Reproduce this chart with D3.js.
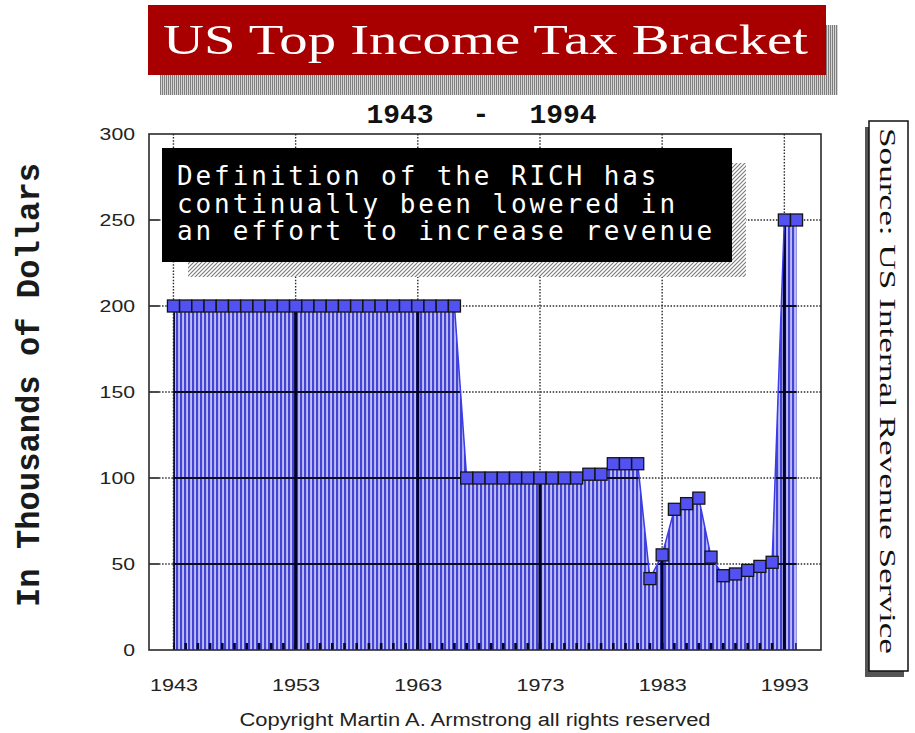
<!DOCTYPE html>
<html>
<head>
<meta charset="utf-8">
<script src="https://cdn.jsdelivr.net/npm/d3@7"></script>
<style>
  html, body { margin: 0; padding: 0; background: #fff; }
  svg { display: block; }
</style>
</head>
<body>
<svg id="chart" width="915" height="733"></svg>
<script>
// Top income tax bracket threshold, thousands of dollars, one value per year
const years = [1943,1944,1945,1946,1947,1948,1949,1950,1951,1952,
               1953,1954,1955,1956,1957,1958,1959,1960,1961,1962,
               1963,1964,1965,1966,1967,1968,1969,1970,1971,1972,
               1973,1974,1975,1976,1977,1978,1979,1980,1981,1982,
               1983,1984,1985,1986,1987,1988,1989,1990,1991,1992,
               1993,1994];
const bracket = [200,200,200,200,200,200,200,200,200,200,
                 200,200,200,200,200,200,200,200,200,200,
                 200,200,200,200,100,100,100,100,100,100,
                 100,100,100,100,102.2,102.2,108.3,108.3,108.3,41.5,
                 55.3,81.8,85.1,88.3,54.0,43.2,44.2,46.3,48.6,51.0,
                 250,250];
const xTickYears = [1943,1953,1963,1973,1983,1993];
const yTickValues = [0,50,100,150,200,250,300];
const gridValues = [50,100,150,200,250];

const titleText = "US Top Income Tax Bracket";
const periodFrom = "1943", periodDash = "-", periodTo = "1994";
const noteLines = ["Definition of the RICH has",
                   "continually been lowered in",
                   "an effort to increase revenue"];
const yAxisTitle = "In Thousands of Dollars";
const sourceText = "Source:  US Internal Revenue Service";
const copyrightText = "Copyright Martin A. Armstrong all rights reserved";

const data = years.map((yr, i) => ({ year: yr, value: bracket[i] }));

const svg = d3.select("#chart");
const P = { left: 149, right: 821, top: 134, bottom: 650 };

const x = d3.scaleLinear().domain([1941, 1996]).range([P.left, P.right]);
const y = d3.scaleLinear().domain([0, 300]).range([P.bottom, P.top]);

// ---------- patterns ----------
const defs = svg.append("defs");

const stripes = defs.append("pattern").attr("id", "barStripes")
  .attr("patternUnits", "userSpaceOnUse").attr("width", 4).attr("height", 8);
stripes.append("rect").attr("width", 4).attr("height", 8).attr("fill", "#bcbcf6");
stripes.append("rect").attr("width", 2.1).attr("height", 8).attr("fill", "#4343d4");

const grayStripes = defs.append("pattern").attr("id", "titleShade")
  .attr("patternUnits", "userSpaceOnUse").attr("width", 2).attr("height", 4);
grayStripes.append("rect").attr("width", 2).attr("height", 4).attr("fill", "#d6d6d6");
grayStripes.append("rect").attr("width", 1).attr("height", 4).attr("fill", "#7e7e7e");

const hatch = defs.append("pattern").attr("id", "noteHatch")
  .attr("patternUnits", "userSpaceOnUse").attr("width", 4).attr("height", 4);
hatch.append("rect").attr("width", 4).attr("height", 4).attr("fill", "#fff");
hatch.append("path").attr("d", "M-1,1 L1,-1 M0,4 L4,0 M3,5 L5,3")
  .attr("stroke", "#7a7a7a").attr("stroke-width", 1.1);

// ---------- title banner ----------
svg.append("rect").attr("x", 160).attr("y", 25).attr("width", 678).attr("height", 70)
  .attr("fill", "url(#titleShade)");
svg.append("rect").attr("x", 148).attr("y", 5).attr("width", 678).attr("height", 70)
  .attr("fill", "#a80000");
svg.append("text").attr("x", 163).attr("y", 54)
  .attr("font-family", "'Liberation Serif', 'DejaVu Serif', serif")
  .attr("font-size", 43).attr("fill", "#fff")
  .attr("textLength", 645).attr("lengthAdjust", "spacingAndGlyphs")
  .text(titleText);

// period subtitle
const periodFont = "'Liberation Mono', 'DejaVu Sans Mono', monospace";
[[periodFrom, 400], [periodDash, 481], [periodTo, 563]].forEach(([t, cx]) => {
  svg.append("text").attr("x", cx).attr("y", 123).attr("text-anchor", "middle")
    .attr("font-family", periodFont).attr("font-weight", "bold")
    .attr("font-size", 28).attr("fill", "#111").text(t);
});

// ---------- plot ----------
const plot = svg.append("g");

// dotted grid
const dotted = plot.append("g").attr("stroke", "#2a2a2a")
  .attr("stroke-width", 1.4).attr("stroke-dasharray", "1.5,1.6");
dotted.selectAll("line.h").data(gridValues).join("line").attr("class", "h")
  .attr("x1", P.left + 10).attr("x2", P.right)
  .attr("y1", d => y(d)).attr("y2", d => y(d));
dotted.selectAll("line.v").data(xTickYears).join("line").attr("class", "v")
  .attr("x1", d => x(d)).attr("x2", d => x(d))
  .attr("y1", P.top).attr("y2", P.bottom);

// short solid y ticks inside the frame
plot.append("g").selectAll("line").data(gridValues).join("line")
  .attr("x1", P.left).attr("x2", P.left + 10)
  .attr("y1", d => y(d)).attr("y2", d => y(d))
  .attr("stroke", "#111").attr("stroke-width", 1.5);

// filled area under the bracket line
const area = d3.area().x(d => x(d.year)).y0(y(0)).y1(d => y(d.value)).curve(d3.curveLinear);
defs.append("clipPath").attr("id", "areaClip").append("path").attr("d", area(data));

plot.append("path").attr("d", area(data)).attr("fill", "url(#barStripes)");

// solid grid and yearly ticks where they pass through the fill
const inside = plot.append("g").attr("clip-path", "url(#areaClip)");
inside.selectAll("line.h").data(gridValues).join("line").attr("class", "h")
  .attr("x1", P.left).attr("x2", P.right)
  .attr("y1", d => y(d)).attr("y2", d => y(d))
  .attr("stroke", "#0c0c20").attr("stroke-width", 2);
inside.selectAll("line.v").data(xTickYears).join("line").attr("class", "v")
  .attr("x1", d => x(d)).attr("x2", d => x(d))
  .attr("y1", P.top).attr("y2", P.bottom)
  .attr("stroke", "#00002e").attr("stroke-width", 3);
inside.selectAll("line.t").data(years).join("line").attr("class", "t")
  .attr("x1", d => x(d)).attr("x2", d => x(d))
  .attr("y1", P.bottom).attr("y2", P.bottom - 7)
  .attr("stroke", "#05052e").attr("stroke-width", 2.6);

// top edge line
const line = d3.line().x(d => x(d.year)).y(d => y(d.value));
plot.append("path").attr("d", line(data)).attr("fill", "none")
  .attr("stroke", "#3a3aee").attr("stroke-width", 1.5);

// square markers
plot.append("g").selectAll("rect").data(data).join("rect")
  .attr("x", d => x(d.year) - 6).attr("y", d => y(d.value) - 6)
  .attr("width", 12).attr("height", 12)
  .attr("fill", "#5252f2").attr("stroke", "#141414").attr("stroke-width", 1.3);

// frame
plot.append("rect").attr("x", P.left).attr("y", P.top)
  .attr("width", P.right - P.left).attr("height", P.bottom - P.top)
  .attr("fill", "none").attr("stroke", "#2a2a2a").attr("stroke-width", 1.6);

// ---------- axes labels ----------
const tickFont = "'Liberation Sans', Arial, sans-serif";
const yAxis = svg.append("g").attr("transform", `translate(${P.left},0)`)
  .call(d3.axisLeft(y).tickValues(yTickValues).tickSize(0).tickPadding(14));
yAxis.select(".domain").remove();
yAxis.selectAll("text")
  .attr("font-family", tickFont).attr("font-size", 17).attr("fill", "#222")
  .attr("textLength", d => String(d).length * 11.8).attr("lengthAdjust", "spacingAndGlyphs");

const xAxis = svg.append("g").attr("transform", `translate(0,${P.bottom})`)
  .call(d3.axisBottom(x).tickValues(xTickYears).tickFormat(d3.format("d")).tickSize(0).tickPadding(29));
xAxis.select(".domain").remove();
xAxis.selectAll("text")
  .attr("font-family", tickFont).attr("font-size", 17).attr("fill", "#222")
  .attr("textLength", 48).attr("lengthAdjust", "spacingAndGlyphs");

// y-axis title
svg.append("text").attr("transform", "translate(39,385) rotate(-90)")
  .attr("text-anchor", "middle")
  .attr("font-family", "'Liberation Mono', 'DejaVu Sans Mono', monospace")
  .attr("font-weight", "bold").attr("font-size", 34).attr("fill", "#1a1a1a")
  .attr("textLength", 444).attr("lengthAdjust", "spacingAndGlyphs")
  .text(yAxisTitle);

// ---------- annotation box ----------
svg.append("rect").attr("x", 188).attr("y", 163).attr("width", 558).attr("height", 114)
  .attr("fill", "url(#noteHatch)");
svg.append("rect").attr("x", 162).attr("y", 148).attr("width", 570).attr("height", 114)
  .attr("fill", "#000");
svg.append("g").selectAll("text").data(noteLines).join("text")
  .attr("x", 177).attr("y", (d, i) => 185 + i * 27.5)
  .attr("font-family", "'DejaVu Sans Mono', 'Liberation Mono', monospace")
  .attr("font-size", 26).attr("letter-spacing", 2.9).attr("fill", "#fff")
  .text(d => d);

// ---------- source box ----------
svg.append("rect").attr("x", 865).attr("y", 127).attr("width", 39).attr("height", 550)
  .attr("fill", "#555");
svg.append("rect").attr("x", 869).attr("y", 121).attr("width", 39).attr("height", 550)
  .attr("fill", "#fff").attr("stroke", "#111").attr("stroke-width", 1.5);
svg.append("text").attr("transform", "translate(880,128) rotate(90)")
  .attr("font-family", "'Liberation Serif', 'DejaVu Serif', serif")
  .attr("font-size", 23).attr("fill", "#111")
  .attr("textLength", 526).attr("lengthAdjust", "spacingAndGlyphs")
  .text(sourceText);

// ---------- copyright ----------
svg.append("text").attr("x", 475).attr("y", 726).attr("text-anchor", "middle")
  .attr("font-family", tickFont).attr("font-size", 18).attr("fill", "#222")
  .attr("textLength", 471).attr("lengthAdjust", "spacingAndGlyphs")
  .text(copyrightText);
</script>
</body>
</html>
